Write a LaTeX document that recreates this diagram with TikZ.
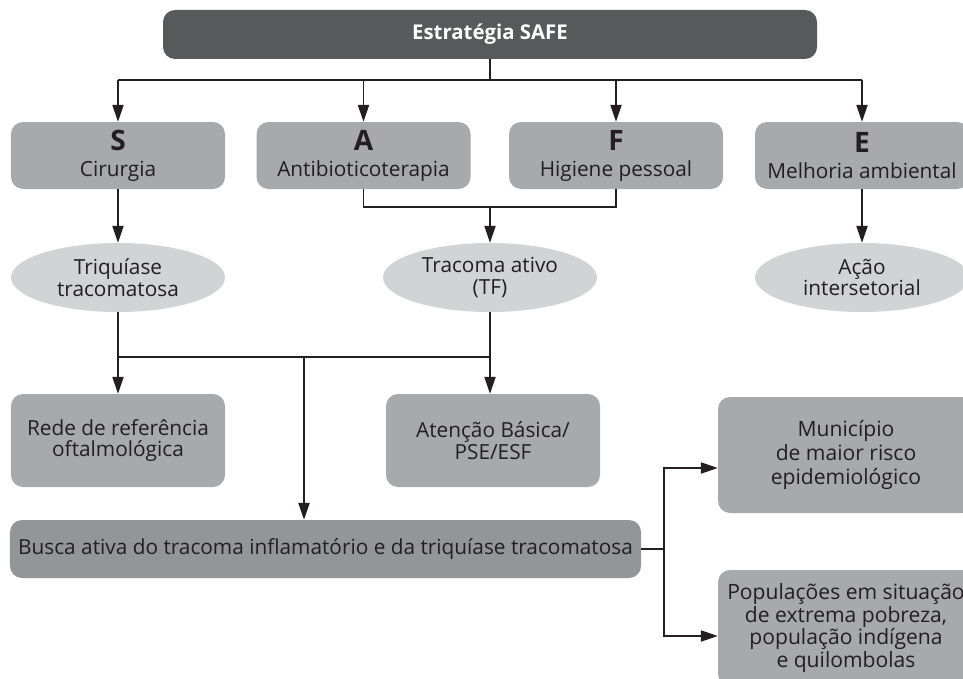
\documentclass[tikz,border=0pt]{standalone}
\usepackage{fontspec}
\setmainfont{Open Sans}
\usepackage{xcolor}
\usetikzlibrary{arrows.meta, shapes.geometric}

\definecolor{topgray}{HTML}{58595B}
\definecolor{boxgray}{HTML}{A7A9AC}
\definecolor{ovalgray}{HTML}{D1D3D4}
\definecolor{buscagray}{HTML}{939598}
\definecolor{inkgray}{HTML}{231F20}

\begin{document}
\begin{tikzpicture}[
  box/.style={rounded corners=3mm, fill=boxgray, text=inkgray, align=center, inner sep=1pt,
    minimum width=5.35cm, minimum height=1.675cm, font=\fontsize{14.8}{15.6}\selectfont},
  oval/.style={ellipse, fill=ovalgray, text=inkgray, align=center, inner sep=0pt,
    minimum width=5.35cm, minimum height=1.725cm, font=\fontsize{14.8}{15.4}\selectfont},
  conn/.style={draw=inkgray, line width=0.9pt},
  arr/.style={conn, -{Triangle[length=4.2mm, width=2.8mm]}}
]
\useasboundingbox (0,0) rectangle (24.075,-16.975);

% title
\node[box, fill=topgray, text=white, minimum width=16.35cm, minimum height=1.225cm,
  font=\fontsize{14.5}{16}\selectfont\bfseries] (safe) at (12.25,-0.8625) {Estratégia SAFE};

% the four components
\node[box, font=\fontsize{14.8}{18.5}\selectfont] (cir) at (2.95,-3.8875) {{\fontsize{20}{20}\selectfont\bfseries S}\\Cirurgia};
\node[box, font=\fontsize{14.8}{18.5}\selectfont] (anti) at (9.0875,-3.8875) {{\fontsize{20}{20}\selectfont\bfseries A}\\Antibioticoterapia};
\node[box, font=\fontsize{14.8}{18.5}\selectfont] (hig) at (15.4,-3.8875) {{\fontsize{20}{20}\selectfont\bfseries F}\\Higiene pessoal};
\node[box, font=\fontsize{14.8}{18.5}\selectfont] (amb) at (21.55,-3.8875) {{\fontsize{20}{20}\selectfont\bfseries E}\\Melhoria ambiental};

% targets
\node[oval] (triq) at (2.95,-6.9375) {Triquíase\\tracomatosa};
\node[oval] (trac) at (12.25,-6.9375) {Tracoma ativo\\(TF)};
\node[oval] (acao) at (21.55,-6.9375) {Ação\\intersetorial};

% services
\node[box, minimum height=2.325cm] (rede) at (2.95,-11.0125) {Rede de referência\\oftalmológica};
\node[box, minimum height=2.325cm] (basica) at (12.325,-11.0125) {Atenção Básica/\\PSE/ESF};
\node[box, fill=buscagray, minimum width=15.775cm, minimum height=1.45cm] (busca) at (8.1375,-13.725) {Busca ativa do tracoma inflamatório e da triquíase tracomatosa};
\node[box, minimum width=6.4cm, minimum height=2.9cm, font=\fontsize{15}{17.2}\selectfont] (munic) at (21.15,-11.375) {Município\\de maior risco\\epidemiológico};
\node[box, minimum width=6.4cm, minimum height=2.9cm, font=\fontsize{15}{16.2}\selectfont] (popul) at (21.15,-15.7) {Populações em situação\\de extrema pobreza,\\população indígena\\e quilombolas};

% connectors
\coordinate (top) at (12.25,-2);
\coordinate (af) at (12.25,-5.175);
\coordinate (low) at (7.6,-8.925);
\coordinate (right) at (16.6,-13.725);

\draw[conn] (safe) -- (top);
\draw[conn] (top -| cir) -- (top -| amb);
\foreach \n in {cir, anti, hig, amb}
  \draw[arr] (top -| \n) -- (\n);
\draw[arr] (cir) -- (triq);
\draw[arr] (amb) -- (acao);
\draw[conn] (anti.south) -- (anti.south |- af) -- (hig.south |- af) -- (hig.south);
\draw[arr] (af) -- (trac);
\draw[conn] (triq.south) -- (triq.south |- low) -- (trac.south |- low) -- (trac.south);
\draw[arr] (triq.south |- low) -- (rede);
\draw[arr] (trac.south |- low) -- (trac.south |- basica.north);
\draw[arr] (low) -- (low |- busca.north);
\draw[conn] (busca.east) -- (right);
\draw[arr] (right) |- ([yshift=-3.25mm]munic.west);
\draw[arr] (right) |- ([yshift=-2mm]popul.west);
\end{tikzpicture}
\end{document}
